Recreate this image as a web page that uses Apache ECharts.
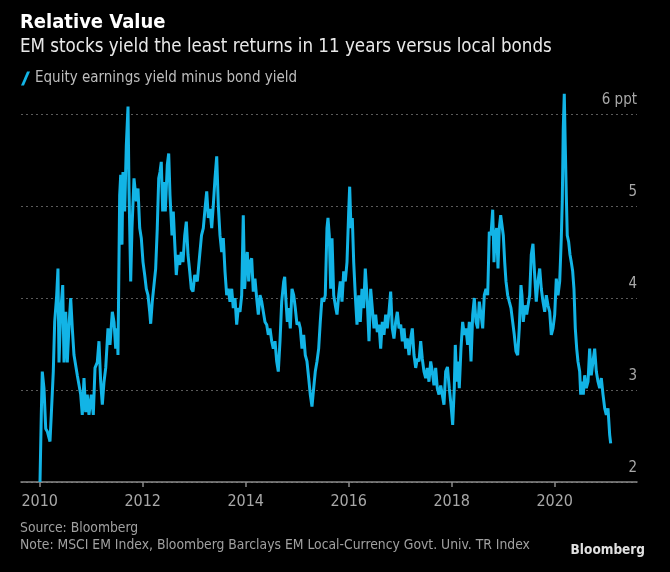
<!DOCTYPE html>
<html><head><meta charset="utf-8">
<script src="https://cdn.jsdelivr.net/npm/echarts@6/dist/echarts.min.js"></script>
<style>html,body{margin:0;padding:0;background:#000;}#chart{width:670px;height:572px;}</style>
</head><body><div id="chart"></div>
<script>
// Decimal-year dates
const years = [
2010.006,2010.031,2010.050,2010.083,2010.117,2010.148,2010.200,2010.225,2010.264,2010.291,
2010.330,2010.355,2010.375,2010.408,2010.447,2010.472,2010.505,2010.536,2010.569,2010.602,
2010.633,2010.666,2010.730,2010.796,2010.827,2010.860,2010.893,2010.924,2010.957,2011.002,
2011.041,2011.074,2011.118,2011.151,2011.184,2011.216,2011.249,2011.282,2011.326,2011.365,
2011.410,2011.443,2011.476,2011.507,2011.520,2011.553,2011.573,2011.598,2011.617,2011.650,
2011.682,2011.715,2011.734,2011.767,2011.792,2011.831,2011.876,2011.909,2011.942,2011.973,
2012.006,2012.039,2012.070,2012.103,2012.136,2012.155,2012.186,2012.219,2012.252,2012.283,
2012.311,2012.336,2012.361,2012.388,2012.414,2012.439,2012.478,2012.505,2012.530,2012.569,
2012.594,2012.621,2012.652,2012.685,2012.718,2012.749,2012.782,2012.816,2012.847,2012.880,
2012.913,2012.944,2012.977,2013.010,2013.060,2013.107,2013.142,2013.177,2013.210,2013.243,
2013.274,2013.307,2013.340,2013.371,2013.404,2013.437,2013.468,2013.501,2013.534,2013.565,
2013.598,2013.631,2013.662,2013.695,2013.728,2013.759,2013.792,2013.825,2013.856,2013.889,
2013.922,2013.953,2013.980,2014.006,2014.031,2014.058,2014.083,2014.116,2014.147,2014.180,
2014.213,2014.245,2014.278,2014.311,2014.342,2014.375,2014.408,2014.439,2014.472,2014.505,
2014.536,2014.569,2014.602,2014.633,2014.666,2014.699,2014.738,2014.757,2014.783,2014.808,
2014.835,2014.866,2014.899,2014.932,2014.963,2014.996,2015.029,2015.060,2015.093,2015.126,
2015.157,2015.190,2015.223,2015.254,2015.287,2015.320,2015.351,2015.384,2015.417,2015.448,
2015.481,2015.514,2015.545,2015.578,2015.598,2015.623,2015.650,2015.676,2015.709,2015.740,
2015.773,2015.806,2015.837,2015.870,2015.903,2015.934,2015.967,2016.000,2016.019,2016.044,
2016.070,2016.097,2016.128,2016.161,2016.194,2016.225,2016.258,2016.291,2016.322,2016.361,
2016.394,2016.427,2016.458,2016.491,2016.524,2016.555,2016.588,2016.621,2016.652,2016.685,
2016.718,2016.749,2016.782,2016.815,2016.846,2016.879,2016.912,2016.944,2016.977,2017.010,
2017.041,2017.074,2017.107,2017.138,2017.171,2017.204,2017.235,2017.268,2017.301,2017.332,
2017.365,2017.398,2017.429,2017.462,2017.495,2017.526,2017.559,2017.592,2017.623,2017.656,
2017.689,2017.720,2017.753,2017.786,2017.817,2017.850,2017.883,2017.918,2017.953,2017.986,
2018.019,2018.050,2018.070,2018.097,2018.122,2018.147,2018.180,2018.213,2018.244,2018.277,
2018.310,2018.342,2018.375,2018.408,2018.439,2018.472,2018.505,2018.536,2018.569,2018.602,
2018.633,2018.666,2018.699,2018.730,2018.763,2018.796,2018.821,2018.846,2018.873,2018.899,
2018.924,2018.951,2018.976,2019.002,2019.029,2019.054,2019.087,2019.118,2019.151,2019.184,
2019.215,2019.248,2019.281,2019.312,2019.345,2019.364,2019.390,2019.423,2019.456,2019.491,
2019.514,2019.545,2019.578,2019.611,2019.642,2019.675,2019.709,2019.740,2019.773,2019.806,
2019.837,2019.870,2019.903,2019.934,2019.967,2020.000,2020.031,2020.064,2020.097,2020.128,
2020.147,2020.166,2020.186,2020.205,2020.225,2020.244,2020.271,2020.297,2020.322,2020.349,
2020.374,2020.400,2020.427,2020.452,2020.485,2020.505,2020.530,2020.555,2020.582,2020.613,
2020.647,2020.679,2020.710,2020.743,2020.776,2020.808,2020.841,2020.873,2020.905,2020.938,
2020.971,2021.002,2021.035,2021.068,2021.087
];
// Equity earnings yield minus bond yield, percentage points
const values = [
2.00,2.73,3.20,3.02,2.58,2.55,2.44,2.73,3.20,3.74,
4.03,4.32,3.30,3.85,4.14,3.30,3.85,3.30,3.70,4.00,
3.67,3.38,3.16,2.95,2.73,3.13,2.76,2.95,2.73,2.95,
2.73,3.24,3.30,3.53,3.09,2.84,3.09,3.24,3.67,3.49,
3.85,3.74,3.45,3.67,3.38,5.12,5.34,4.58,5.37,4.94,
5.66,6.08,5.19,4.18,4.76,5.30,5.05,5.19,4.76,4.65,
4.39,4.25,4.10,4.03,3.85,3.72,3.96,4.14,4.32,4.76,
5.30,5.37,5.48,4.94,5.26,4.94,5.45,5.57,5.12,4.68,
4.94,4.61,4.25,4.47,4.36,4.50,4.39,4.68,4.83,4.47,
4.29,4.10,4.07,4.25,4.18,4.47,4.68,4.76,4.97,5.16,
4.87,4.97,4.76,5.01,5.30,5.54,5.01,4.68,4.50,4.65,
4.29,4.03,4.10,3.96,4.10,3.89,4.00,3.71,3.89,3.85,
4.03,4.90,4.10,4.39,4.50,4.18,4.39,4.43,4.07,4.21,
4.00,3.82,4.03,3.96,3.85,3.74,3.71,3.60,3.67,3.53,
3.45,3.53,3.31,3.20,3.53,3.96,4.18,4.23,3.96,3.74,
3.89,3.67,4.10,4.03,3.89,3.71,3.74,3.67,3.45,3.60,
3.38,3.31,3.13,2.95,2.82,3.02,3.20,3.31,3.45,3.74,
4.00,3.96,4.03,4.76,4.87,4.68,4.10,4.65,4.03,3.92,
3.82,4.03,4.18,3.96,4.29,4.18,4.39,4.94,5.21,4.76,
4.87,4.39,4.03,3.71,4.03,3.74,4.10,3.89,4.32,3.96,
3.53,4.10,3.89,3.67,3.82,3.63,3.71,3.45,3.74,3.60,
3.82,3.67,3.85,4.07,3.67,3.56,3.74,3.85,3.67,3.71,
3.53,3.67,3.45,3.56,3.38,3.56,3.67,3.38,3.24,3.34,
3.31,3.53,3.34,3.20,3.13,3.24,3.09,3.31,3.20,3.05,
3.24,3.02,2.95,3.05,2.95,2.84,3.20,3.25,3.02,2.84,
2.62,3.02,3.49,3.09,3.31,3.02,3.45,3.74,3.60,3.67,
3.49,3.74,3.31,3.82,4.00,3.74,3.67,3.96,3.82,3.67,
4.03,4.10,4.03,4.72,4.68,4.96,4.39,4.68,4.76,4.32,
4.76,4.90,4.92,4.68,4.39,4.18,4.03,3.96,3.89,3.74,
3.60,3.42,3.38,3.67,4.14,4.03,3.74,3.92,3.82,3.95,
4.03,4.47,4.59,4.25,3.96,4.18,4.32,4.10,3.96,3.85,
4.03,3.92,3.85,3.60,3.67,3.82,4.21,4.03,4.18,4.65,
5.05,5.84,6.22,5.66,5.12,4.68,4.61,4.47,4.39,4.29,
4.10,3.67,3.45,3.31,3.20,2.95,3.09,2.95,3.16,3.02,
3.09,3.45,3.16,3.31,3.45,3.20,3.09,3.02,3.13,2.95,
2.80,2.73,2.80,2.51,2.42
];
const xTickYears = [2010, 2012, 2014, 2016, 2018, 2020];
const yTickMin = 2, yTickMax = 6, yTickStep = 1;
const titleText = 'Relative Value';
const subtitleText = 'EM stocks yield the least returns in 11 years versus local bonds';
const seriesName = 'Equity earnings yield minus bond yield';
const yUnit = 'ppt';
const sourceText = 'Source: Bloomberg';
const noteText = 'Note: MSCI EM Index, Bloomberg Barclays EM Local-Currency Govt. Univ. TR Index';
const brandText = 'Bloomberg';

const FONT = "'Liberation Sans Narrow','DejaVu Sans Condensed','Liberation Sans',sans-serif";
const LINE = '#12b4e6';

const chart = echarts.init(document.getElementById('chart'), null, {renderer: 'canvas'});
chart.setOption({
  backgroundColor: '#000',
  animation: false,
  title: [
    {text: titleText, left: 20, top: 13, padding: 0, textStyle: {color: '#fff', fontSize: 20, fontWeight: 'bold', fontFamily: FONT}},
    {text: subtitleText, left: 20, top: 38, padding: 0, textStyle: {color: '#e8e8e8', fontSize: 18.6, fontWeight: 'normal', fontFamily: FONT}},
    {text: sourceText + '\n' + noteText, left: 20, top: 520, padding: 0, textStyle: {color: '#a0a0a0', fontSize: 13.8, fontWeight: 'normal', lineHeight: 17, fontFamily: FONT}},
    {text: brandText, right: 25, top: 543, padding: 0, textStyle: {color: '#e0e0e0', fontSize: 13.5, fontWeight: 'bold', fontFamily: FONT}}
  ],
  legend: {
    left: 21, top: 71, padding: 0,
    itemWidth: 9, itemHeight: 14,
    data: [{name: seriesName, icon: 'path://M0,14 L6,0 L9,0 L3,14 Z'}],
    textStyle: {color: '#bdbdbd', fontSize: 15, fontFamily: FONT},
    selectedMode: false
  },
  grid: {left: 21, right: 33, top: 114, bottom: 90},
  xAxis: {
    type: 'value', min: 2009.637, max: 2021.598,
    axisLine: {show: true, lineStyle: {color: '#8a8a8a', width: 1.5}},
    axisTick: {show: true, customValues: xTickYears, length: 5, lineStyle: {color: '#8a8a8a', width: 1.5}},
    axisLabel: {customValues: xTickYears, color: '#a8a8a8', fontSize: 16, margin: 12, fontFamily: FONT, formatter: v => String(v)},
    splitLine: {show: false}
  },
  yAxis: {
    type: 'value', position: 'right', min: yTickMin, max: yTickMax, interval: yTickStep,
    axisLine: {show: false}, axisTick: {show: false},
    splitLine: {show: true, lineStyle: {color: '#5a5a5a', width: 1, type: [2, 3]}},
    axisLabel: {inside: true, margin: 0, align: 'right', verticalAlign: 'bottom', padding: [0, 0, 6, 0],
      color: '#a8a8a8', fontSize: 15, fontFamily: FONT,
      formatter: v => (v === yTickMax ? v + ' ' + yUnit : String(v))}
  },
  series: [{
    name: seriesName, type: 'line', showSymbol: false, symbol: 'none', clip: false,
    data: years.map((y, i) => [y, values[i]]),
    lineStyle: {color: LINE, width: 3}, itemStyle: {color: LINE}
  }]
});
</script></body></html>
